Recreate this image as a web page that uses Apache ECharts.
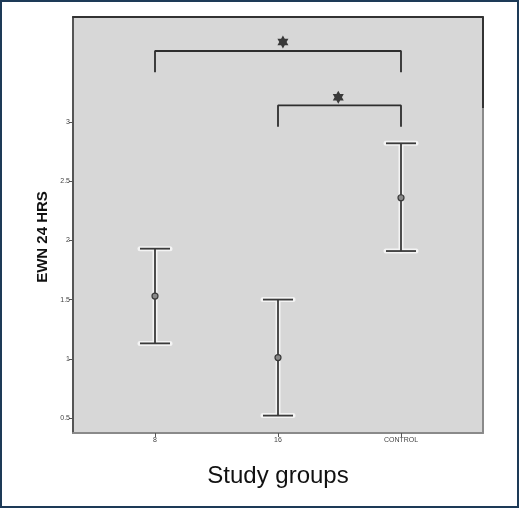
<!DOCTYPE html>
<html>
<head>
<meta charset="utf-8">
<script src="https://cdn.jsdelivr.net/npm/echarts@6/dist/echarts.min.js"></script>
<style>
  html, body { margin: 0; padding: 0; background: #fff; }
  #chart { width: 519px; height: 508px; }
</style>
</head>
<body>
<div id="chart"></div>
<script>
// groups on the x axis
const groups = ['8', '16', 'CONTROL'];
// mean and 95% CI
const means = [1.53, 1.01, 2.36];
const lower = [1.13, 0.52, 1.91];
const upper = [1.93, 1.50, 2.82];
const yTicks = [0.5, 1, 1.5, 2, 2.5, 3];

// significance brackets: [group, value] corner points
const bracketA = [[0, 3.42], [0, 3.60], [2, 3.60], [2, 3.42]];
const bracketB = [[1, 2.96], [1, 3.14], [2, 3.14], [2, 2.96]];
const stars = [[1.04, 3.675], [1.49, 3.21]];

const starPath = 'path://M50 0 L64.4 25 L93.3 25 L78.9 50 L93.3 75 L64.4 75 L50 100 L35.6 75 L6.7 75 L21.1 50 L6.7 25 L35.6 25 Z';

const chart = echarts.init(document.getElementById('chart'));

const errorData = groups.map((g, i) => [i, lower[i], upper[i], means[i]]);

const renderErrorBar = (params, api) => {
  const x = api.value(0);
  const lo = api.coord([x, api.value(1)]);
  const hi = api.coord([x, api.value(2)]);
  const mid = api.coord([x, api.value(3)]);
  const half = 15;
  const segs = [
    [hi[0], hi[1], lo[0], lo[1]],
    [hi[0] - half, hi[1], hi[0] + half, hi[1]],
    [lo[0] - half, lo[1], lo[0] + half, lo[1]]
  ];
  const children = [];
  segs.forEach((s) => {
    children.push({
      type: 'line',
      shape: { x1: s[0], y1: s[1], x2: s[2], y2: s[3] },
      style: { stroke: '#f4f4f4', lineWidth: 5, lineCap: 'round' }
    });
  });
  segs.forEach((s) => {
    children.push({
      type: 'line',
      shape: { x1: s[0], y1: s[1], x2: s[2], y2: s[3] },
      style: { stroke: '#3a3a3a', lineWidth: 1.8 }
    });
  });
  children.push({
    type: 'circle',
    shape: { cx: mid[0], cy: mid[1], r: 3 },
    style: { fill: '#888', stroke: '#3a3a3a', lineWidth: 1.2 }
  });
  return { type: 'group', children };
};

const bracketLine = (data) => ({
  type: 'line',
  data,
  symbol: 'none',
  silent: true,
  lineStyle: { color: '#2e2e2e', width: 1.8 },
  clip: false
});

chart.setOption({
  animation: false,
  backgroundColor: '#fff',
  grid: {
    left: 73,
    top: 17,
    right: 36,
    bottom: 75,
    show: true,
    backgroundColor: '#d7d7d7',
    borderWidth: 0
  },
  graphic: [
    {
      type: 'rect',
      shape: { x: 1, y: 1, width: 517, height: 506 },
      style: { fill: 'none', stroke: '#1d3a57', lineWidth: 2 }
    },
    {
      type: 'text',
      x: 43,
      y: 237,
      rotation: Math.PI / 2,
      style: {
        text: 'EWN 24 HRS',
        font: 'bold 15px "Liberation Sans", Arial, sans-serif',
        fill: '#111',
        align: 'center',
        verticalAlign: 'middle'
      }
    }
  ],
  xAxis: [
    {
      type: 'value',
      min: -2 / 3,
      max: 8 / 3,
      position: 'bottom',
      splitLine: { show: false },
      axisLine: { show: true, onZero: false, lineStyle: { color: '#8a8a8a', width: 2 } },
      axisTick: {
        show: true,
        customValues: [0, 1, 2],
        length: 4,
        lineStyle: { color: '#555' }
      },
      axisLabel: {
        customValues: [0, 1, 2],
        formatter: (v) => groups[Math.round(v)],
        fontSize: 7,
        color: '#444',
        margin: 4,
        fontFamily: 'Liberation Sans'
      },
      name: 'Study groups',
      nameLocation: 'middle',
      nameGap: 31,
      nameTextStyle: {
        fontSize: 24,
        color: '#111',
        fontFamily: 'Liberation Sans'
      }
    },
    {
      type: 'value',
      min: -2 / 3,
      max: 8 / 3,
      position: 'top',
      splitLine: { show: false },
      axisLine: { show: true, onZero: false, lineStyle: { color: '#333', width: 2 } },
      axisTick: { show: false },
      axisLabel: { show: false }
    }
  ],
  yAxis: [
    {
      type: 'value',
      min: 0.373,
      max: 3.887,
      position: 'left',
      splitLine: { show: false },
      axisLine: { show: true, onZero: false, lineStyle: { color: '#555', width: 2 } },
      axisTick: {
        show: true,
        customValues: yTicks,
        length: 4,
        lineStyle: { color: '#555' }
      },
      axisLabel: {
        customValues: yTicks,
        fontSize: 7,
        color: '#444',
        margin: 3,
        fontFamily: 'Liberation Sans'
      }
    },
    {
      type: 'value',
      min: 0.373,
      max: 3.887,
      position: 'right',
      splitLine: { show: false },
      axisLine: { show: true, onZero: false, lineStyle: { color: '#8a8a8a', width: 2 } },
      axisTick: { show: false },
      axisLabel: { show: false }
    }
  ],
  series: [
    {
      type: 'custom',
      data: errorData,
      renderItem: renderErrorBar,
      encode: { x: 0, y: [1, 2, 3] },
      silent: true
    },
    bracketLine(bracketA),
    bracketLine(bracketB),
    {
      // dark top part of the right frame edge
      type: 'line',
      data: [[8 / 3, 3.118], [8 / 3, 3.887]],
      symbol: 'none',
      silent: true,
      lineStyle: { color: '#333', width: 2 },
      clip: false
    },
    {
      type: 'scatter',
      data: stars,
      symbol: starPath,
      symbolSize: [11, 13],
      itemStyle: { color: '#111' },
      silent: true
    }
  ]
});
</script>
</body>
</html>
